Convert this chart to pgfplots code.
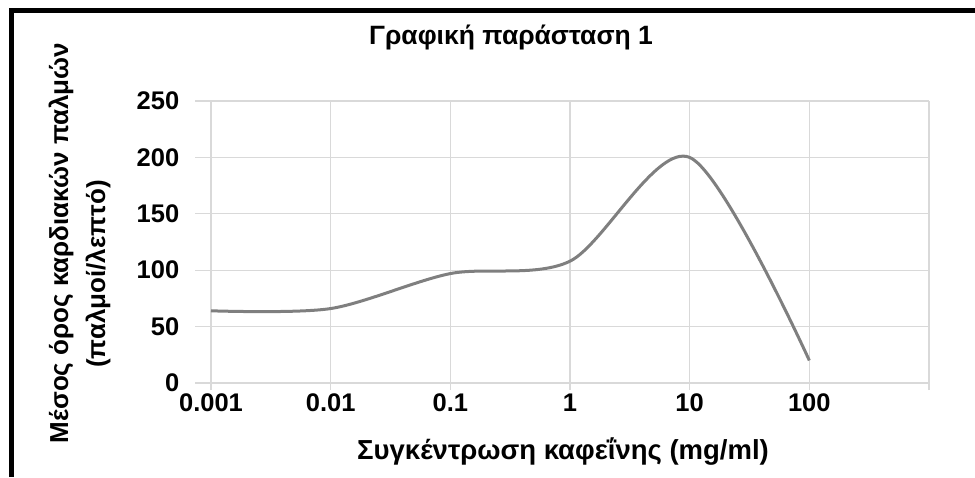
\documentclass[border=0pt]{standalone}
\usepackage{fontspec}
\setmainfont{Liberation Sans}
\usepackage{pgfplots}
\pgfplotsset{compat=1.18}

\definecolor{gridgray}{HTML}{D9D9D9}
\definecolor{linegray}{HTML}{7F7F7F}

\begin{document}
\begin{tikzpicture}[x=1pt,y=1pt]
\useasboundingbox (0,0) rectangle (975,477);
\begin{axis}[
  at={(211pt,94pt)}, anchor=south west,
  width=718pt, height=282pt, scale only axis,
  xmode=log, xmin=0.001, xmax=1000,
  ymin=0, ymax=250,
  xtick={0.001,0.01,0.1,1,10,100,1000},
  xticklabels={0.001,0.01,0.1,1,10,100,{}},
  xminorticks=false,
  ytick={0,50,100,150,200,250},
  axis lines*=left,
  axis line style={draw=gridgray, line width=1.3pt},
  grid=major,
  major grid style={draw=gridgray, line width=1.3pt},
  tick align=outside,
  xtick style={draw=gridgray, line width=1.3pt, /pgfplots/major tick length=7pt},
  ytick style={draw=gridgray, line width=1.3pt, /pgfplots/major tick length=16pt},
  /pgf/number format/assume math mode=true,
  ticklabel style={font=\fontsize{25.5}{30}\selectfont\bfseries},
  xticklabel style={yshift=-3pt},
  yticklabel style={xshift=-24pt},
  clip=false,
]
\addplot[linegray, line width=3pt, smooth] coordinates {
(0.001,64)
(0.01,66)
(0.1,97)
(1,108)
(10,200)
(100,20)
};
\end{axis}
\draw[line width=5pt] (11.5,0) -- (11.5,466.5) -- (975,466.5);
\node[anchor=base, font=\fontsize{26.5}{30}\selectfont\bfseries] at (511,432) {Γραφική παράσταση 1};
\node[anchor=base, font=\fontsize{27.5}{32}\selectfont\bfseries] at (563,18) {Συγκέντρωση καφεΐνης (mg/ml)};
\node[anchor=base, rotate=90, font=\fontsize{26}{30}\selectfont\bfseries] at (68,234) {Μέσος όρος καρδιακών παλμών};
\node[anchor=base, rotate=90, font=\fontsize{26}{30}\selectfont\bfseries] at (105,203) {(παλμοί/λεπτό)};
\end{tikzpicture}
\end{document}
